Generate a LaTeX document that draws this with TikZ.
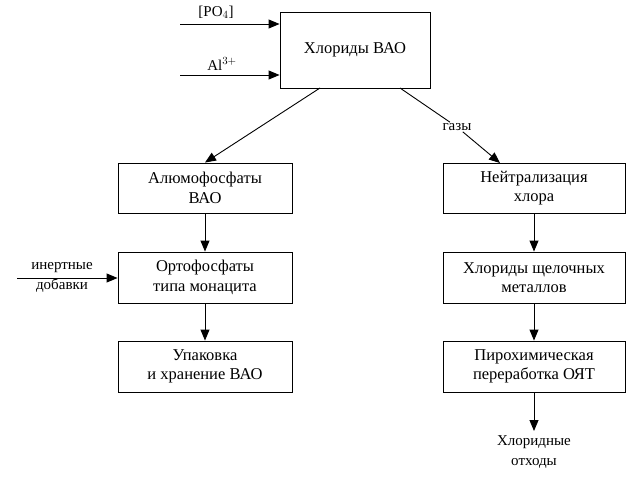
\documentclass[tikz,border=0pt]{standalone}
\usepackage{fontspec}
\setmainfont{Liberation Serif}
\usetikzlibrary{arrows.meta}
\begin{document}
\begin{tikzpicture}[x=1pt,y=-1pt,
  box/.style={draw,line width=0.9pt,inner sep=0pt,align=center,font=\fontsize{16.5}{19.5}\selectfont},
  lbl/.style={inner sep=1pt,align=center,font=\fontsize{15}{20}\selectfont},
  arr/.style={line width=0.9pt,-{Triangle[length=11pt,width=9pt]}}]
\useasboundingbox (0,0) rectangle (638,482);
\node[box,minimum width=150pt,minimum height=76pt] (top) at (355,50) {Хлориды ВАО};
\node[box,minimum width=174pt,minimum height=50pt] (l1) at (205,188) {Алюмофосфаты\\ВАО};
\node[box,minimum width=174pt,minimum height=51pt] (l2) at (205,277.5) {Ортофосфаты\\типа монацита};
\node[box,minimum width=174pt,minimum height=51pt] (l3) at (205,366.5) {Упаковка\\и хранение ВАО};
\node[box,minimum width=182pt,minimum height=50pt] (r1) at (534,188) {Нейтрализация\\хлора};
\node[box,minimum width=182pt,minimum height=51pt] (r2) at (534,277.5) {Хлориды щелочных\\металлов};
\node[box,minimum width=182pt,minimum height=51pt] (r3) at (534,366.5) {Пирохимическая\\переработка ОЯТ};
% inputs
\coordinate (po) at (180,24);
\coordinate (al) at (180,75);
\draw[arr] (po) -- (top.west |- po);
\draw[arr] (al) -- (top.west |- al);
\node[lbl] (pol) at (216,12) {[PO$_4$]};
\node[lbl] (all) at (222,64) {Al$^{3+}$};
\coordinate (ia) at (17,278);
\draw[arr] (ia) -- (l2.west |- ia);
\node[lbl] (inl) at (62,277) {инертные\\добавки};
% diagonals
\coordinate (ts1) at (320,88);
\coordinate (ts2) at (400,88);
\coordinate (r1in) at (500,163);
\draw[arr] (ts1) -- (l1.north);
\node[lbl,fill=white] (gaz) at (457,127) {газы};
\draw[line width=0.9pt] (ts2) -- (gaz);
\draw[arr] (gaz) -- (r1in);
% verticals
\draw[arr] (l1) -- (l2);
\draw[arr] (l2) -- (l3);
\draw[arr] (r1) -- (r2);
\draw[arr] (r2) -- (r3);
\coordinate (out) at (534,431);
\draw[arr] (r3) -- (out);
\node[lbl] (outl) at (534,452) {Хлоридные\\отходы};
\end{tikzpicture}
\end{document}
